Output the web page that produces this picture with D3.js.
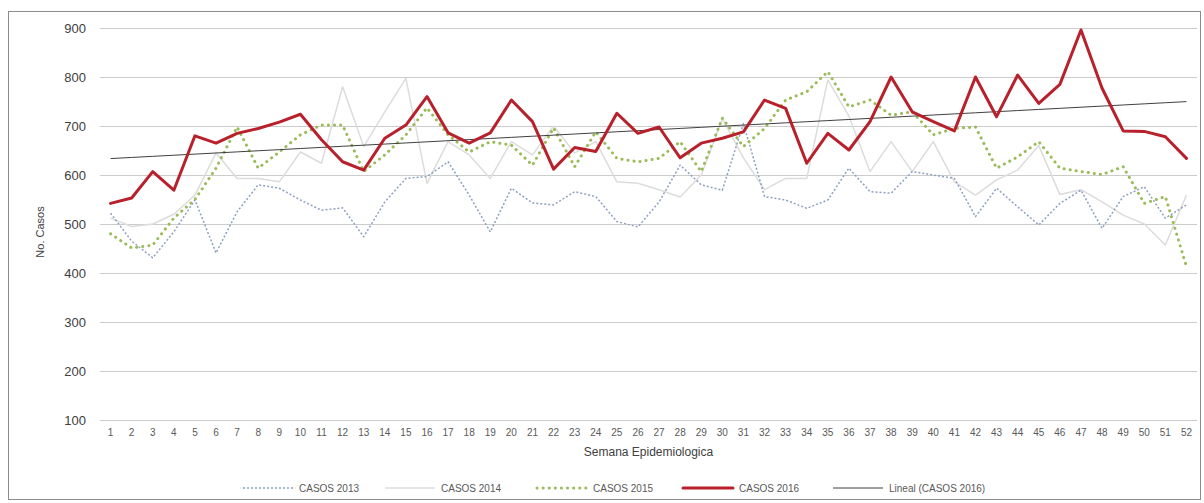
<!DOCTYPE html>
<html><head><meta charset="utf-8">
<script src="https://cdn.jsdelivr.net/npm/d3@7"></script>
<style>body{margin:0;background:#fff;font-family:"Liberation Sans",Arial,sans-serif}</style>
</head><body><svg id="c" width="1204" height="503"></svg>
<script>
const weeks = d3.range(1, 53);
const casos2013 = [522,465,431,484,549,441,525,580,573,549,528,533,474,545,593,597,627,559,484,573,543,539,566,556,505,494,545,620,580,569,705,556,549,532,549,614,566,563,607,600,593,515,573,535,498,542,569,491,556,576,512,539];
const casos2014 = [512,495,500,520,559,645,593,593,586,647,624,780,658,729,797,583,668,641,593,668,641,700,645,668,586,583,570,555,600,715,635,570,593,593,794,720,607,668,607,668,586,559,590,610,660,560,570,545,518,500,457,559];
const casos2015 = [480,451,457,512,550,614,698,614,647,682,702,702,607,641,682,737,682,647,668,661,620,696,617,688,634,627,634,668,607,716,658,695,753,770,811,739,753,722,729,682,695,698,614,637,668,614,607,601,617,542,556,413];
const casos2016 = [542,553,607,569,680,665,685,695,708,724,672,627,610,675,702,760,686,665,686,753,709,612,656,648,726,685,698,635,665,675,688,753,736,624,685,651,709,800,729,709,690,800,719,804,746,785,896,777,690,689,678,634];
const yTicks = [100,200,300,400,500,600,700,800,900];
const seriesNames = ["CASOS 2013","CASOS 2014","CASOS 2015","CASOS 2016","Lineal (CASOS 2016)"];

const svg = d3.select("#c");
const plot = {left:100, right:1197, top:28, bottom:420};
svg.append("rect").attr("x",8.5).attr("y",11.5).attr("width",1192).attr("height",488)
  .attr("fill","#fff").attr("stroke","#8c8c8c").attr("stroke-width",1);

const x = d3.scaleBand().domain(weeks).range([plot.left, plot.right]);
const y = d3.scaleLinear().domain([100,900]).range([plot.bottom, plot.top]);
const cx = d => x(d) + x.bandwidth()/2;

const yAxis = d3.axisLeft(y).tickValues(yTicks).tickSize(-(plot.right-plot.left)).tickPadding(14);
const gy = svg.append("g").attr("transform",`translate(${plot.left},0)`).call(yAxis);
gy.select(".domain").remove();
gy.selectAll(".tick line").attr("stroke","#cccccc").attr("stroke-width",1.2);
gy.selectAll(".tick text").style("fill","#404040").style("font-size","13px").style("font-family","Liberation Sans, Arial, sans-serif");

const xAxis = d3.axisBottom(x).tickSize(0).tickPadding(9);
const gx = svg.append("g").attr("transform",`translate(0,${plot.bottom})`).call(xAxis);
gx.select(".domain").remove();
gx.selectAll(".tick text").style("fill","#595959").style("font-size","10px").style("font-family","Liberation Sans, Arial, sans-serif");

svg.append("text").attr("x",(plot.left+plot.right)/2).attr("y",456).attr("text-anchor","middle")
  .style("fill","#404040").style("font-size","12px").text("Semana Epidemiologica");
svg.append("text").attr("transform","translate(44,232) rotate(-90)").attr("text-anchor","middle")
  .style("fill","#404040").style("font-size","11px").text("No. Casos");

const line = d3.line().x((d,i)=>cx(weeks[i])).y(d=>y(d));

// trend (linear regression of 2016)
const mx = d3.mean(weeks), my = d3.mean(casos2016);
const slope = d3.sum(weeks, (w,i)=>(w-mx)*(casos2016[i]-my)) / d3.sum(weeks, w=>(w-mx)**2);
const icpt = my - slope*mx;
const trend = weeks.map(w => icpt + slope*w);

const styles = [
  {data:casos2013, stroke:"#8da0bf", width:1.5, dash:"2,2", cap:"butt"},
  {data:casos2014, stroke:"#dcdcdc", width:1.5, dash:null, cap:"butt"},
  {data:casos2015, stroke:"#9bbb59", width:3, dash:"0.1,6", cap:"round"},
  {data:casos2016, stroke:"#b8202b", width:3, dash:null, cap:"round"},
  {data:trend, stroke:"#404040", width:1, dash:null, cap:"butt"}
];
[1,0,2,4,3].forEach(k=>{
  const s = styles[k];
  svg.append("path").datum(s.data).attr("d",line).attr("fill","none")
    .attr("stroke",s.stroke).attr("stroke-width",s.width)
    .attr("stroke-dasharray",s.dash).attr("stroke-linecap",s.cap).attr("stroke-linejoin","round");
});

const legX = [243,385,537,683,833];
const leg = svg.append("g");
styles.forEach((s,i)=>{
  leg.append("line").attr("x1",legX[i]).attr("x2",legX[i]+50).attr("y1",488).attr("y2",488)
    .attr("stroke",s.stroke).attr("stroke-width",s.width).attr("stroke-dasharray",s.dash).attr("stroke-linecap",s.cap);
  leg.append("text").attr("x",legX[i]+56).attr("y",491.5).style("fill","#595959")
    .style("font-size","10px").text(seriesNames[i]);
});
</script></body></html>
